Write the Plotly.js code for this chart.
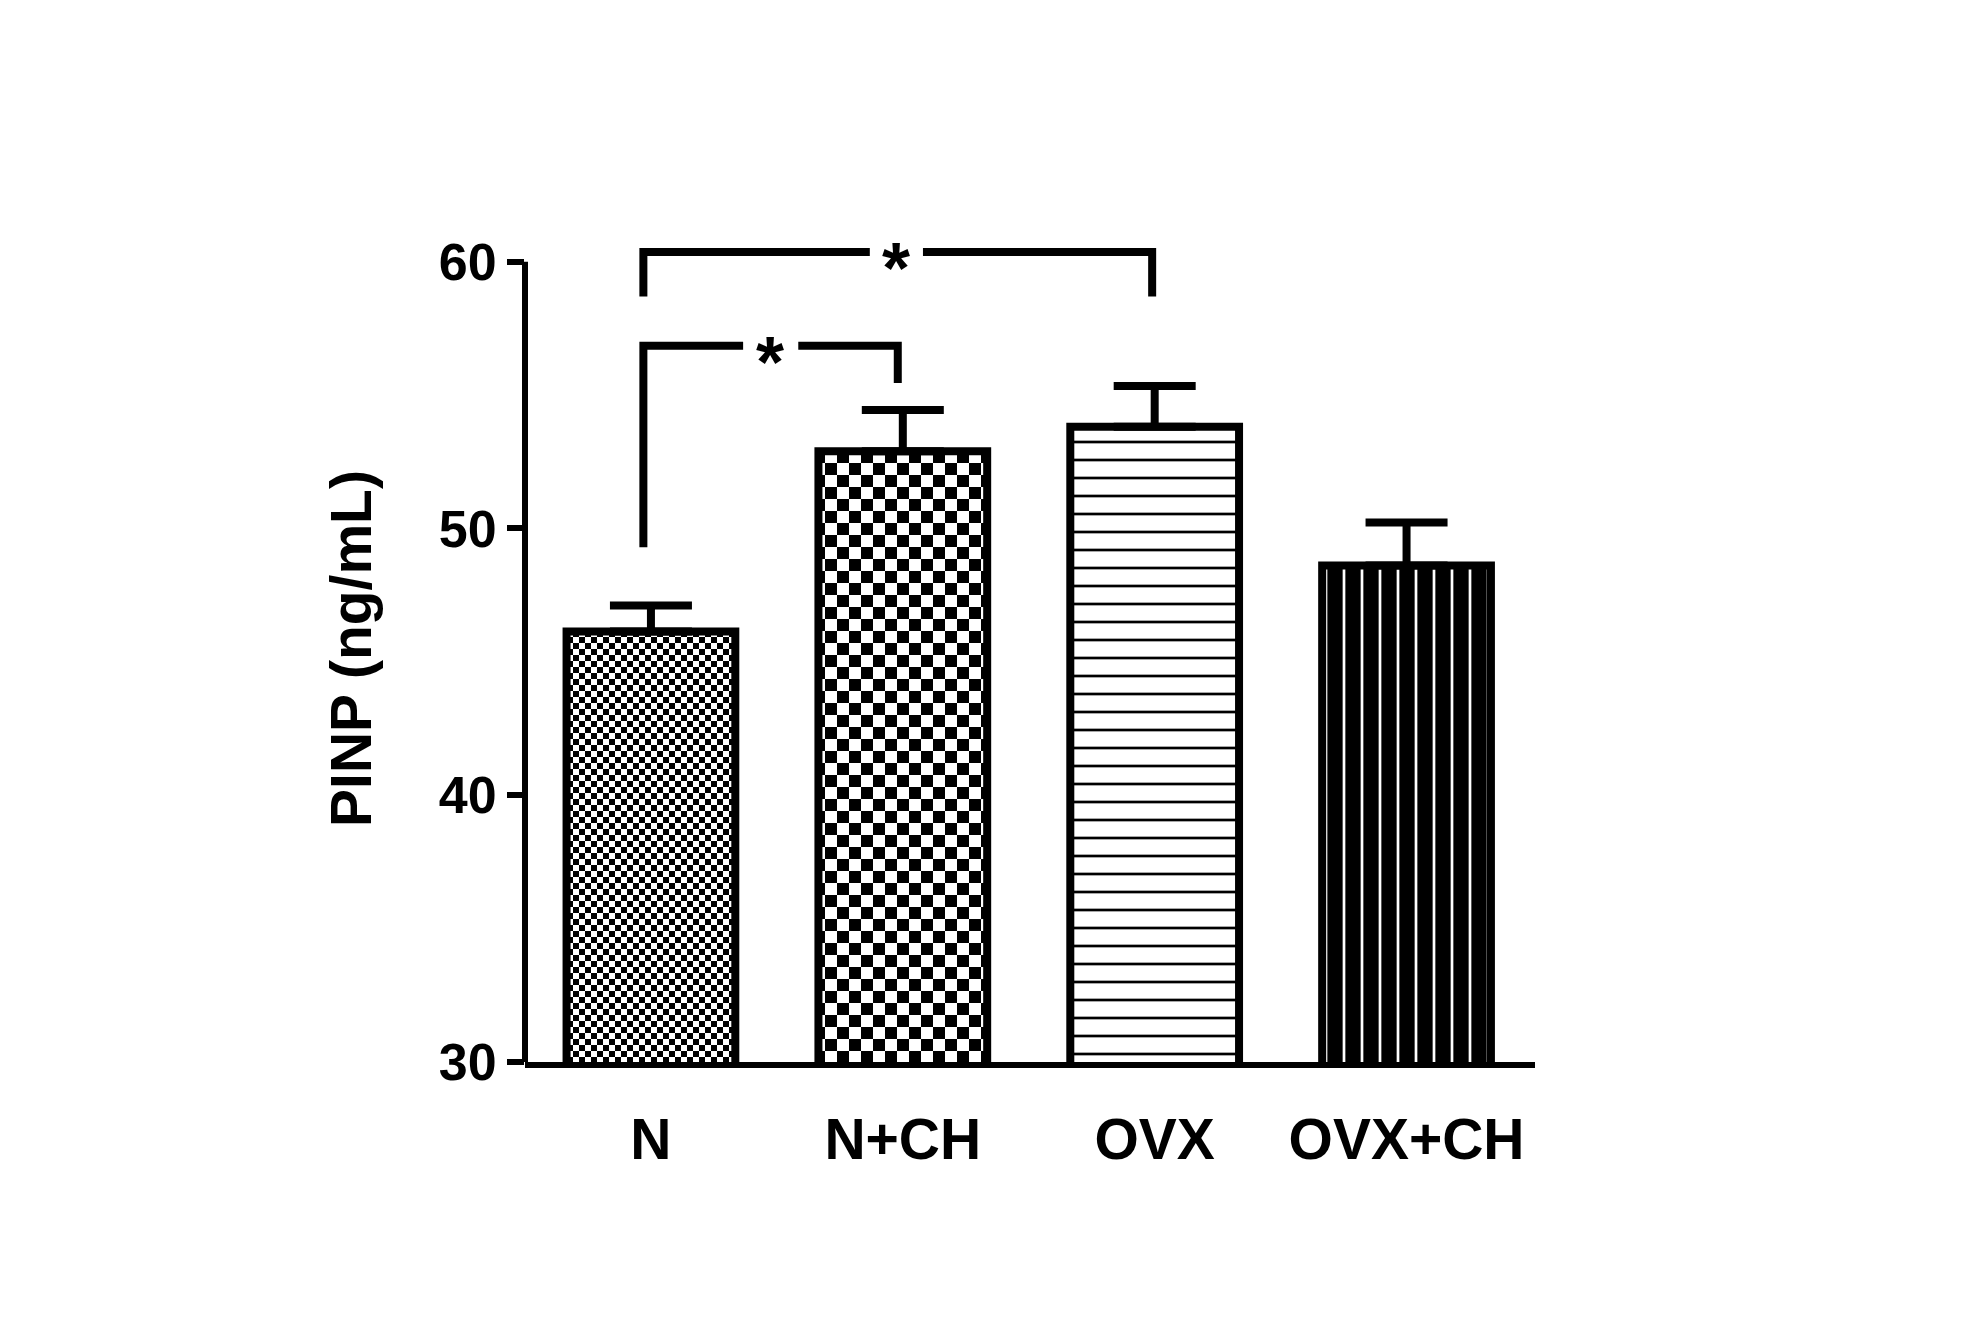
<!DOCTYPE html>
<html>
<head>
<meta charset="utf-8">
<script src="https://cdn.plot.ly/plotly-3.0.1.min.js"></script>
<style>
  html, body { margin: 0; padding: 0; background: #ffffff; }
  #chart { width: 1964px; height: 1329px; }
</style>
</head>
<body>
<div id="chart"></div>
<script>
// ---- data ----
const categories = ['N', 'N+CH', 'OVX', 'OVX+CH'];
const means = [46.14, 52.89, 53.81, 48.61];
const sem = [0.97, 1.55, 1.53, 1.61];
const yTickVals = [30, 40, 50, 60];
const yAxisSpan = [30, 60];
const yTitle = 'PINP (ng/mL)';

// significance brackets (x in category index units, y in ng/mL)
const bracketLeftX = [-0.03, -0.03];
const bracketRightX = [0.98, 1.99];
const bracketTopY = [56.85, 60.36];
const bracketLeftBottom = [49.3, 58.69];
const bracketRightBottom = [55.45, 58.69];
const starX = [0.472, 0.972];
const starGapLeft = [0.366, 0.869];
const starGapRight = [0.585, 1.08];
const starLabel = ['*', '*'];

const FONT = 'Liberation Sans, Arial, Helvetica, sans-serif';
const xIdx = categories.map((c, i) => i);

const bars = {
  type: 'bar',
  x: xIdx,
  y: means,
  width: 0.67,
  marker: {
    color: 'white',
    line: { color: 'black', width: 8 },
    pattern: {
      shape: ['+', '+', '-', '|'],
      size: [12, 24, 18, 18],
      solidity: [0.5, 0.5, 0.15, 0.15],
      fgcolor: ['black', 'black', 'black', 'white'],
      bgcolor: ['white', 'white', 'white', 'black'],
      fillmode: 'replace'
    }
  },
  error_y: {
    type: 'data',
    symmetric: false,
    array: sem,
    arrayminus: sem.map(() => 0),
    color: 'black',
    thickness: 8,
    width: 41
  },
  hoverinfo: 'skip',
  showlegend: false
};

const bracketTraces = bracketLeftX.map((lx, i) => ({
  type: 'scatter',
  mode: 'lines',
  x: [lx, lx, starGapLeft[i], null, starGapRight[i], bracketRightX[i], bracketRightX[i]],
  y: [bracketLeftBottom[i], bracketTopY[i], bracketTopY[i], null, bracketTopY[i], bracketTopY[i], bracketRightBottom[i]],
  line: { color: 'black', width: 8 },
  connectgaps: false,
  cliponaxis: false,
  hoverinfo: 'skip',
  showlegend: false
}));

const annotations = starX.map((sx, i) => ({
  x: sx, y: bracketTopY[i], xref: 'x', yref: 'y',
  text: starLabel[i], showarrow: false,
  xanchor: 'center', yanchor: 'middle', yshift: -16,
  font: { family: FONT, size: 72, color: 'black', weight: 'bold' }
}));

const layout = {
  width: 1964,
  height: 1329,
  paper_bgcolor: 'white',
  plot_bgcolor: 'white',
  margin: { l: 525, r: 429, t: 235, b: 267, pad: 0 },
  showlegend: false,
  font: { family: FONT, color: 'black', size: 54, weight: 'bold' },
  xaxis: {
    type: 'linear',
    range: [-0.5, 3.51],
    tickvals: xIdx,
    ticktext: categories,
    showline: true, linecolor: 'black', linewidth: 6,
    ticks: '', showgrid: false, zeroline: false,
    ticklabelstandoff: 23,
    tickfont: { family: FONT, size: 57, color: 'black', weight: 'bold' },
    fixedrange: true
  },
  yaxis: {
    range: [30, 61],
    tickvals: yTickVals,
    showline: false,
    ticks: 'outside', ticklen: 17, tickwidth: 6, tickcolor: 'black',
    showgrid: false, zeroline: false,
    ticklabelstandoff: 0,
    tickfont: { family: FONT, size: 52, color: 'black', weight: 'bold' },
    title: { text: yTitle, standoff: 48, font: { family: FONT, size: 57, color: 'black', weight: 'bold' } },
    fixedrange: true
  },
  shapes: [{
    type: 'line', xref: 'paper', yref: 'y',
    x0: 0, x1: 0, y0: yAxisSpan[0], y1: yAxisSpan[1],
    line: { color: 'black', width: 6 }, layer: 'above'
  }],
  annotations: annotations
};

// checkerboard cells (px) for the two checked bars
const checkerCell = [6, 12, null, null];

Plotly.newPlot('chart', [bars].concat(bracketTraces), layout, { staticPlot: true, displayModeBar: false }).then(gd => {
  const ns = 'http://www.w3.org/2000/svg';
  const defs = gd.querySelector('defs');
  const paths = gd.querySelectorAll('.barlayer .point path');
  paths.forEach((p, i) => {
    const c = checkerCell[i];
    if (!c) return;
    const pat = document.createElementNS(ns, 'pattern');
    const id = 'checker' + i;
    pat.setAttribute('id', id);
    pat.setAttribute('patternUnits', 'userSpaceOnUse');
    pat.setAttribute('width', 2 * c);
    pat.setAttribute('height', 2 * c);
    const bg = document.createElementNS(ns, 'rect');
    bg.setAttribute('width', 2 * c); bg.setAttribute('height', 2 * c); bg.setAttribute('fill', '#ffffff');
    pat.appendChild(bg);
    [[0, 0], [c, c]].forEach(([a, b]) => {
      const r = document.createElementNS(ns, 'rect');
      r.setAttribute('x', a); r.setAttribute('y', b);
      r.setAttribute('width', c); r.setAttribute('height', c);
      r.setAttribute('fill', '#000000');
      pat.appendChild(r);
    });
    defs.appendChild(pat);
    p.style.fill = 'url(#' + id + ')';
    p.style.fillOpacity = 1;
  });
});
</script>
</body>
</html>
